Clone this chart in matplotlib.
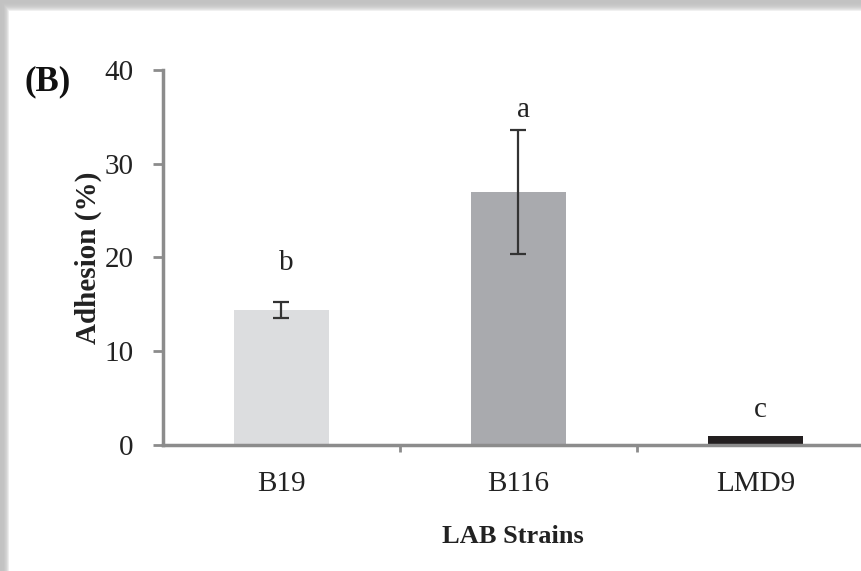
import numpy as np
import matplotlib.pyplot as plt

plt.rcParams['font.family'] = ['Liberation Serif', 'DejaVu Serif']

strains = ["B19", "B116", "LMD9"]
adhesion = [14.4, 27.0, 1.0]
adhesion_err = [0.85, 6.65, 0.0]
letters = ["b", "a", "c"]
letter_y = [19.4, 35.7, 3.7]
bar_colors = ["#dcdddf", "#a9aaae", "#231f20"]

fig = plt.figure(figsize=(8.62, 5.71), dpi=100)

# soft shadow frame at top/left edges
bg = fig.add_axes([0, 0, 1, 1], zorder=-1)
yy, xx = np.mgrid[0:571, 0:862]
top = np.clip(yy / 11.0, 0, 1)
left = np.clip(xx / 9.0, 0, 1)
shade = 0.76 + 0.24 * np.minimum(top, left) ** 3
shade[(yy >= 11) & (xx >= 9)] = 1.0
bg.imshow(shade, cmap="gray", vmin=0, vmax=1, aspect="auto", interpolation="bilinear")
bg.axis("off")

ax = fig.add_axes([0.189, 0.2207, 0.811, 0.6567])
ax.patch.set_alpha(0)
x = np.arange(len(strains))
ax.bar(x, adhesion, width=0.4, color=bar_colors, zorder=2)
ax.errorbar(x[:2], adhesion[:2], yerr=adhesion_err[:2], fmt="none",
            ecolor="#333333", elinewidth=1.6, capsize=6, capthick=1.6, zorder=3)

for xi, lab, ly in zip(x, letters, letter_y):
    ax.text(xi + 0.02, ly, lab, ha="center", va="center", fontsize=21, color="#222222")

ax.set_xlim(-0.5, 2.45)
ax.set_ylim(0, 40)
ax.set_yticks([0, 10, 20, 30, 40])
ax.set_xticks(x)
ax.set_xticklabels(strains)
ax.set_xticks([0.5, 1.5], minor=True)
ax.tick_params(axis="x", which="major", length=0, pad=19, labelsize=21, labelcolor="#222222")
ax.tick_params(axis="x", which="minor", length=5, width=2, color="#8c8c8c")
ax.tick_params(axis="y", length=7, width=2, color="#8c8c8c", pad=14, labelsize=21, labelcolor="#222222")

for s in ["top", "right"]:
    ax.spines[s].set_visible(False)
for s in ["left", "bottom"]:
    ax.spines[s].set_color("#8c8c8c")
    ax.spines[s].set_linewidth(2.5)

ax.set_ylabel("Adhesion (%)", fontsize=21, fontweight="bold", color="#222222", labelpad=2)
ax.set_xlabel("LAB Strains", fontsize=19, fontweight="bold", color="#222222", labelpad=20)

fig.text(0.028, 0.856, "(B)", fontsize=25, fontweight="bold", va="center", color="#111111")

fig.savefig("out.png", dpi=100)
